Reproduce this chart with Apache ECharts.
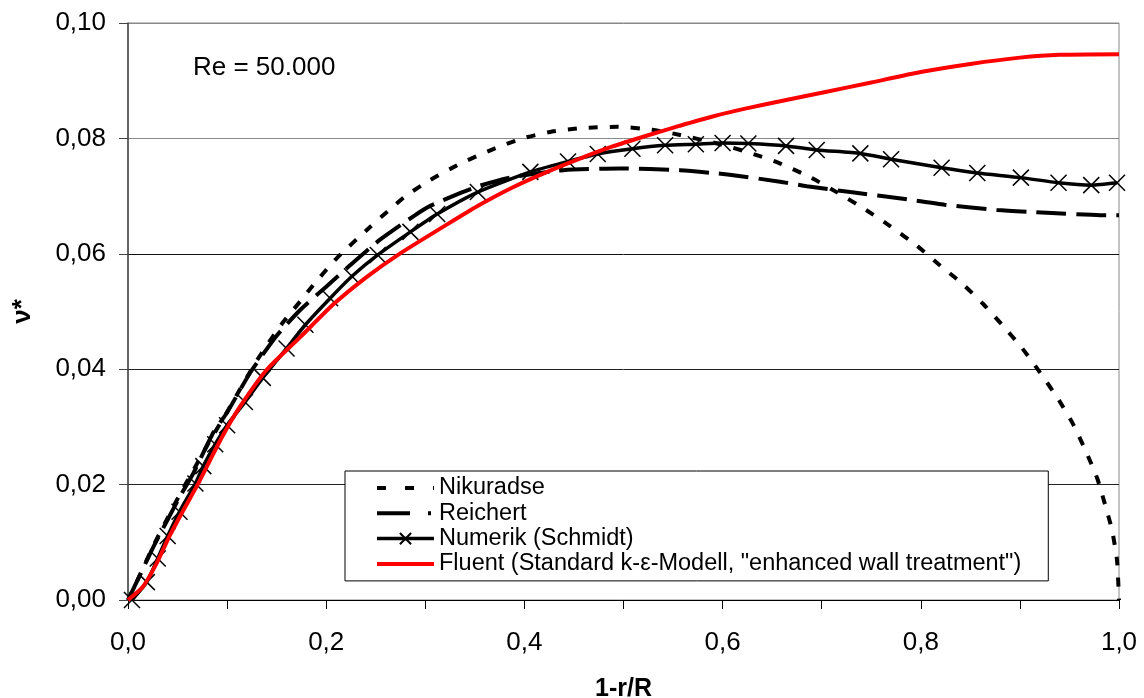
<!DOCTYPE html>
<html>
<head>
<meta charset="utf-8">
<script src="https://cdn.jsdelivr.net/npm/echarts@6/dist/echarts.min.js"></script>
<style>html,body{margin:0;padding:0;background:#fff}#c{width:1144px;height:698px}</style>
</head>
<body>
<div id="c"></div>
<script>
const seriesNames = ['Nikuradse', 'Reichert', 'Numerik (Schmidt)', 'Fluent (Standard k-\u03b5-Modell, "enhanced wall treatment")'];
const xTicks = [0, 0.2, 0.4, 0.6, 0.8, 1.0];
const yTicks = [0, 0.02, 0.04, 0.06, 0.08, 0.10];
const annotation = 'Re = 50.000';

const nikuradse = [[0,0],[0.012,0.0043],[0.025,0.0092],[0.039,0.0139],[0.052,0.0182],[0.066,0.0225],[0.083,0.0277],[0.1,0.0326],[0.13,0.0415],[0.155,0.0478],[0.174,0.0518],[0.187,0.0546],[0.211,0.0593],[0.244,0.0646],[0.267,0.0681],[0.28,0.0700],[0.305,0.0728],[0.335,0.0756],[0.368,0.0781],[0.398,0.0800],[0.428,0.0812],[0.459,0.0818],[0.494,0.082],[0.529,0.0815],[0.557,0.0806],[0.59,0.0793],[0.61,0.0784],[0.631,0.0773],[0.656,0.0758],[0.688,0.0733],[0.716,0.0706],[0.742,0.0679],[0.769,0.0648],[0.796,0.0614],[0.818,0.0582],[0.842,0.0548],[0.863,0.0513],[0.882,0.0477],[0.902,0.0437],[0.92,0.0395],[0.938,0.035],[0.953,0.0307],[0.966,0.026],[0.978,0.0211],[0.986,0.0165],[0.993,0.0121],[0.998,0.0069],[1.0,0.0]];

const reichert = [[0,0],[0.012,0.0043],[0.025,0.009],[0.039,0.0136],[0.052,0.0178],[0.066,0.022],[0.086,0.029],[0.1,0.0325],[0.123,0.0393],[0.15,0.0458],[0.174,0.0503],[0.2,0.0543],[0.224,0.0580],[0.254,0.0624],[0.288,0.0665],[0.305,0.0683],[0.335,0.0705],[0.355,0.0718],[0.388,0.0733],[0.439,0.0745],[0.496,0.0748],[0.557,0.0745],[0.607,0.0737],[0.658,0.0725],[0.685,0.0717],[0.729,0.0707],[0.784,0.0695],[0.824,0.0685],[0.877,0.0676],[0.927,0.0671],[0.981,0.0667],[1.0,0.0667]];

const numerik = [[0.004,0.0],[0.019,0.0031],[0.03,0.0072],[0.04,0.0111],[0.052,0.0153],[0.068,0.0202],[0.076,0.0232],[0.088,0.0270],[0.1,0.0303],[0.118,0.0343],[0.136,0.0385],[0.16,0.0436],[0.179,0.0477],[0.204,0.0523],[0.226,0.0561],[0.252,0.0598],[0.285,0.0638],[0.312,0.0669],[0.353,0.0707],[0.406,0.0742],[0.444,0.0760],[0.474,0.0773],[0.509,0.0782],[0.542,0.0788],[0.573,0.0790],[0.6,0.0792],[0.626,0.0791],[0.664,0.0787],[0.695,0.0780],[0.739,0.0774],[0.77,0.0764],[0.821,0.0749],[0.857,0.0740],[0.901,0.0732],[0.939,0.0723],[0.972,0.0719],[0.998,0.0723]];

const fluent = [[0,0],[0.015,0.0023],[0.029,0.0064],[0.042,0.0111],[0.056,0.0156],[0.07,0.0199],[0.083,0.0243],[0.096,0.0286],[0.113,0.0335],[0.14,0.0399],[0.174,0.0456],[0.207,0.0512],[0.241,0.0560],[0.274,0.0600],[0.322,0.0651],[0.355,0.0685],[0.388,0.0715],[0.423,0.0742],[0.456,0.0765],[0.489,0.0786],[0.524,0.0805],[0.557,0.0822],[0.59,0.0838],[0.624,0.0852],[0.663,0.0866],[0.7,0.0879],[0.75,0.0897],[0.8,0.0915],[0.85,0.0929],[0.9,0.0940],[0.94,0.0945],[1.0,0.0946]];

const FONT = '"Liberation Sans", Arial, sans-serif';
const chart = echarts.init(document.getElementById('c'), null, {renderer: 'canvas'});
const fmt = v => {
  const d = Math.abs(v) < 1e-9 ? 0 : v;
  return d.toFixed(2).replace('.', ',');
};
const hidden = {color: 'transparent', borderColor: 'transparent', borderWidth: 0, opacity: 0};
chart.setOption({
  animation: false,
  backgroundColor: '#fff',
  textStyle: {fontFamily: FONT},
  grid: {left: 128, right: 25, top: 23, bottom: 98, show: true, borderColor: '#888', borderWidth: 1, backgroundColor: 'transparent', containLabel: false, outerBoundsMode: 'none'},
  xAxis: {
    type: 'value', min: 0, max: 1, interval: 0.2,
    name: '1-r/R', nameLocation: 'middle', nameGap: 77,
    nameTextStyle: {fontFamily: FONT, fontSize: 25, fontWeight: 'bold', color: '#000'},
    axisLine: {lineStyle: {color: '#000', width: 1}},
    axisTick: {show: true, inside: false, length: 9, lineStyle: {color: '#000'}},
    minorTick: {show: true, splitNumber: 2, length: 9, lineStyle: {color: '#000'}},
    axisLabel: {fontFamily: FONT, fontSize: 26, color: '#000', margin: 30,
      formatter: v => { const t = xTicks.find(k => Math.abs(k - v) < 1e-6); return (t === undefined ? v : t).toFixed(1).replace('.', ','); }},
    splitLine: {show: false}
  },
  yAxis: {
    type: 'value', min: 0, max: 0.1, interval: 0.02,
    name: '\u03bd*', nameLocation: 'middle', nameGap: 92, nameRotate: 90,
    nameTextStyle: {fontFamily: FONT, fontSize: 26, fontWeight: 'bold', color: '#000'},
    axisLine: {show: true, lineStyle: {color: '#444', width: 1.5}},
    axisTick: {show: true, inside: false, length: 9, lineStyle: {color: '#444'}},
    axisLabel: {fontFamily: FONT, fontSize: 26, color: '#000', margin: 22, formatter: v => { const t = yTicks.find(k => Math.abs(k - v) < 1e-9); return fmt(t === undefined ? v : t); }},
    splitLine: {show: true, lineStyle: {color: ['#000', '#222', '#222', '#111', '#888', '#888'], width: 1}}
  },
  legend: {
    orient: 'vertical', left: 345, top: 471,
    itemWidth: 57, itemHeight: 14, itemGap: 1.3,
    padding: [5, 27, 5, 30],
    borderColor: '#000', borderWidth: 1, backgroundColor: '#fff',
    selectedMode: false,
    textStyle: {fontFamily: FONT, fontSize: 23.5, color: '#000'},
    data: [
      {name: seriesNames[0], itemStyle: hidden, lineStyle: {width: 4, type: [9, 19], color: '#000', cap: 'butt'}},
      {name: seriesNames[1], itemStyle: hidden, lineStyle: {width: 4, type: [33, 18, 3, 10], color: '#000', cap: 'butt'}},
      {name: seriesNames[2], lineStyle: {width: 3.5, color: '#000'}},
      {name: seriesNames[3], itemStyle: hidden, lineStyle: {width: 4, color: '#ff0000'}}
    ]
  },
  graphic: [{
    type: 'text', left: 193, top: 55,
    style: {text: annotation, fontFamily: FONT, fontSize: 26, fill: '#000'}
  }],
  series: [
    {name: seriesNames[0], type: 'line', data: nikuradse, symbol: 'none', smooth: 0.2,
      lineStyle: {color: '#000', width: 4, type: [9, 12], cap: 'butt'}, itemStyle: {color: '#000'}, z: 2},
    {name: seriesNames[1], type: 'line', data: reichert, symbol: 'none', smooth: 0.2,
      lineStyle: {color: '#000', width: 4, type: [30, 10], cap: 'butt'}, itemStyle: {color: '#000'}, z: 3},
    {name: seriesNames[2], type: 'line', data: numerik, symbol: 'path://M0,0L10,10M10,0L0,10', symbolSize: 16, showSymbol: true, smooth: 0.2,
      lineStyle: {color: '#000', width: 3.5}, itemStyle: {color: 'transparent', borderColor: '#000', borderWidth: 1.5}, z: 4},
    {name: seriesNames[3], type: 'line', data: fluent, symbol: 'none', smooth: 0.2,
      lineStyle: {color: '#ff0000', width: 4}, itemStyle: {color: '#ff0000'}, z: 5}
  ]
});
</script>
</body>
</html>
